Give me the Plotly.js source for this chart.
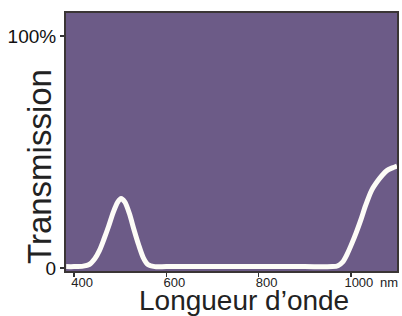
<!DOCTYPE html>
<html>
<head>
<meta charset="utf-8">
<script src="https://cdn.plot.ly/plotly-3.0.1.min.js"></script>
<style>
  html, body { margin: 0; padding: 0; background: #ffffff; }
  #chart { width: 402px; height: 316px; }
</style>
</head>
<body>
<div id="chart"></div>
<script>
// Wavelength (nm)
const wavelength = [383, 400, 420, 433, 445, 455, 465, 475, 485, 495, 502, 510, 520, 530, 540, 550, 560, 575, 600, 700, 800, 900, 960, 972, 982, 992, 1002, 1012, 1022, 1032, 1045, 1058, 1068, 1078, 1090, 1100];
// Transmission (%)
const transmission = [0.6, 0.6, 0.8, 1.5, 4, 7.5, 12.5, 18, 24, 28.5, 30, 28.5, 23.5, 16.5, 10, 4.5, 1.5, 0.6, 0.6, 0.6, 0.6, 0.6, 0.6, 1, 2.5, 6, 10.5, 15.5, 21, 27, 33.5, 37.5, 40, 42, 43.2, 44];

const xTickVals = [400, 600, 800, 1000];
const xTickText = ['400', '600', '800', '1000'];
const yTickVals = [0, 100];
const yTickText = ['0', '100%'];

const xTitle = 'Longueur d\u2019onde';
const yTitle = 'Transmission';
const unitText = 'nm';

const FONT = '"Liberation Sans", Arial, sans-serif';

const trace = {
  x: wavelength,
  y: transmission,
  type: 'scatter',
  mode: 'lines',
  line: { color: '#fdfcf7', width: 5, shape: 'spline', smoothing: 0.8 },
  hoverinfo: 'skip'
};

const layout = {
  width: 402,
  height: 316,
  margin: { l: 66, r: 5, t: 13, b: 45 },
  paper_bgcolor: '#ffffff',
  plot_bgcolor: '#6c5b87',
  showlegend: false,
  font: { family: FONT, color: '#222222' },
  xaxis: {
    range: [382.6, 1100],
    tickvals: xTickVals,
    ticktext: xTickText,
    ticks: 'outside',
    ticklen: 4,
    tickwidth: 1.5,
    tickcolor: '#333333',
    ticklabelshift: 8,
    ticklabelstandoff: -6,
    tickfont: { family: FONT, size: 13, color: '#222222' },
    showgrid: false,
    zeroline: false,
    showline: true,
    mirror: true,
    linecolor: '#3a3535',
    linewidth: 2,
    automargin: false
  },
  yaxis: {
    range: [-1.3, 110],
    tickvals: yTickVals,
    ticktext: yTickText,
    ticks: 'outside',
    ticklen: 4,
    tickwidth: 1.5,
    tickcolor: '#333333',
    tickfont: { family: FONT, size: 19, color: '#111111' },
    showgrid: false,
    zeroline: false,
    showline: true,
    mirror: true,
    linecolor: '#3a3535',
    linewidth: 2,
    automargin: false
  },
  annotations: [
    {
      text: yTitle,
      xref: 'paper', yref: 'paper',
      x: -0.08, y: 0.405,
      xanchor: 'center', yanchor: 'middle',
      textangle: -90,
      showarrow: false,
      font: { family: FONT, size: 33, color: '#222222' }
    },
    {
      text: xTitle,
      xref: 'paper', yref: 'paper',
      x: 0.538, y: 0,
      xanchor: 'center', yanchor: 'middle',
      yshift: -29.5,
      showarrow: false,
      font: { family: FONT, size: 28, color: '#222222' }
    },
    {
      text: unitText,
      xref: 'x', yref: 'paper',
      x: 1061, y: 0,
      xanchor: 'left', yanchor: 'middle',
      yshift: -11,
      xshift: -1,
      showarrow: false,
      font: { family: FONT, size: 13, color: '#222222' }
    }
  ]
};

Plotly.newPlot('chart', [trace], layout, { displayModeBar: false, staticPlot: true });
</script>
</body>
</html>
